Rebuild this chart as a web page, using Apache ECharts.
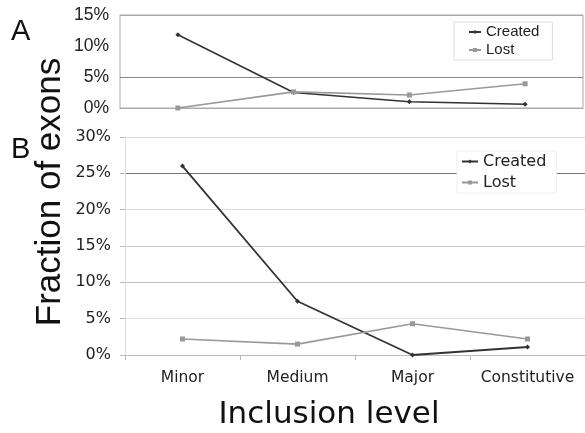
<!DOCTYPE html>
<html>
<head>
<meta charset="utf-8">
<script src="https://cdn.jsdelivr.net/npm/echarts@6/dist/echarts.min.js"></script>
<style>html,body{margin:0;padding:0;background:#fff}#c{width:585px;height:433px}</style>
</head>
<body>
<div id="c"></div>
<script>
var categories = ['Minor', 'Medium', 'Major', 'Constitutive'];
var createdA = [11.8, 2.5, 1.0, 0.6];
var lostA = [0.0, 2.6, 2.1, 3.9];
var createdB = [26.0, 7.4, 0.0, 1.1];
var lostB = [2.2, 1.5, 4.3, 2.2];
var ticksA = [0, 5, 10, 15];
var ticksB = [0, 5, 10, 15, 20, 25, 30];

var chart = echarts.init(document.getElementById('c'), null, {renderer: 'canvas'});
var fA = 'Liberation Sans, Arial, sans-serif';
var fB = 'DejaVu Sans, Verdana, sans-serif';

var option = {
  animation: false,
  backgroundColor: '#fff',
  grid: [
    {left: 120, top: 15, width: 463, height: 93, show: true, borderColor: '#aaa', borderWidth: 1, backgroundColor: 'transparent'},
    {left: 125, top: 137, width: 464, height: 218}
  ],
  xAxis: [
    {gridIndex: 0, type: 'category', data: categories, boundaryGap: true,
     axisLine: {show: true, lineStyle: {color: '#aaa'}}, axisTick: {show: false}, axisLabel: {show: false}},
    {gridIndex: 1, type: 'category', data: categories, boundaryGap: true,
     axisLine: {show: true, lineStyle: {color: '#bbb'}},
     axisTick: {show: true, interval: 0, length: 5, lineStyle: {color: '#bbb'}},
     axisLabel: {show: true, interval: 0, margin: 15, fontFamily: fB, fontSize: 15.5, color: '#222'}}
  ],
  yAxis: [
    {gridIndex: 0, type: 'value', min: ticksA[0], max: ticksA[ticksA.length - 1], interval: 5,
     axisLine: {show: false}, axisTick: {show: false},
     axisLabel: {margin: 11, fontFamily: fA, fontSize: 17.5, color: '#222', formatter: '{value}%'},
     splitLine: {show: true, lineStyle: {color: ['#aaa', '#888', 'rgba(0,0,0,0)', '#aaa'], width: 1}}},
    {gridIndex: 1, type: 'value', min: ticksB[0], max: ticksB[ticksB.length - 1], interval: 5,
     axisLine: {show: true, lineStyle: {color: '#ddd'}},
     axisTick: {show: true, length: 5, lineStyle: {color: '#bbb'}},
     axisLabel: {margin: 14, fontFamily: fB, fontSize: 16, color: '#222', formatter: '{value}%'},
     splitLine: {show: true, lineStyle: {color: ['#ccc', '#e2e2e2', '#bbb', '#ccc', '#ddd', '#777', '#ddd'], width: 1}}}
  ],
  legend: [
    {orient: 'vertical', left: 454, top: 22, data: ['Created', 'Lost'],
     backgroundColor: '#fff', borderColor: '#ddd', borderWidth: 1, borderRadius: 0,
     padding: [1, 13, 1, 14], itemGap: 0, itemWidth: 12, itemHeight: 5,
     textStyle: {fontFamily: fA, fontSize: 15, color: '#222', lineHeight: 18}},
    {orient: 'vertical', left: 457, top: 151, data: ['Created ', 'Lost '],
     backgroundColor: '#fff', borderColor: '#eee', borderWidth: 1, borderRadius: 0,
     padding: [0, 5, 0, 4], itemGap: 0, itemWidth: 16, itemHeight: 5,
     textStyle: {fontFamily: fB, fontSize: 16, color: '#222', lineHeight: 21}}
  ],
  series: [
    {name: 'Created', type: 'line', xAxisIndex: 0, yAxisIndex: 0, data: createdA,
     symbol: 'diamond', symbolSize: 5, itemStyle: {color: '#333'}, lineStyle: {color: '#333', width: 1.6}},
    {name: 'Lost', type: 'line', xAxisIndex: 0, yAxisIndex: 0, data: lostA,
     symbol: 'rect', symbolSize: 5, itemStyle: {color: '#999'}, lineStyle: {color: '#999', width: 1.6}},
    {name: 'Created ', type: 'line', xAxisIndex: 1, yAxisIndex: 1, data: createdB,
     symbol: 'diamond', symbolSize: 5, itemStyle: {color: '#333'}, lineStyle: {color: '#333', width: 1.8}},
    {name: 'Lost ', type: 'line', xAxisIndex: 1, yAxisIndex: 1, data: lostB,
     symbol: 'rect', symbolSize: 5, itemStyle: {color: '#999'}, lineStyle: {color: '#999', width: 1.6}}
  ],
  graphic: [
    {type: 'text', left: 11, top: 17, style: {text: 'A', font: '29px ' + fA, fill: '#111'}},
    {type: 'text', left: 11, top: 135, style: {text: 'B', font: '29px ' + fA, fill: '#111'}},
    {type: 'text', x: 50, y: 192, rotation: Math.PI / 2,
     style: {text: 'Fraction of exons', font: '35px ' + fA, fill: '#111', align: 'center', verticalAlign: 'middle'}},
    {type: 'text', x: 329, y: 415,
     style: {text: 'Inclusion level', font: '31px ' + fB, fill: '#111', align: 'center', verticalAlign: 'middle'}}
  ]
};
chart.setOption(option);
</script>
</body>
</html>
